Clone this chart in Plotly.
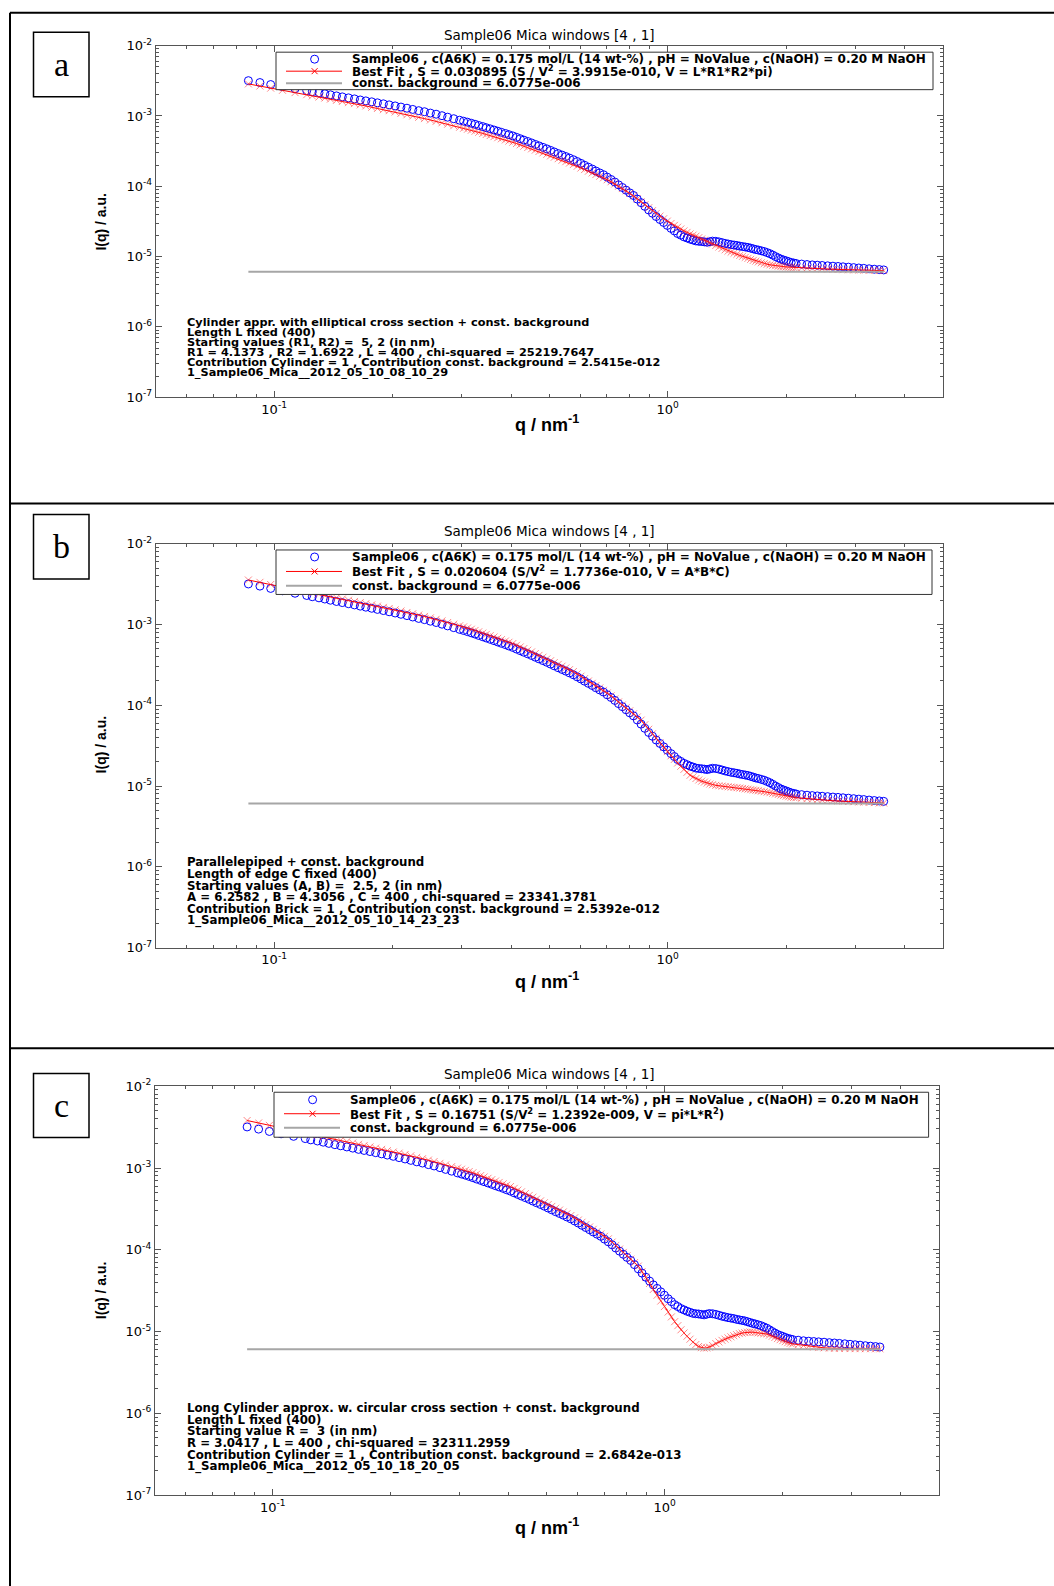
import math
import plotly.graph_objects as go

W, H = 1054, 1586

# ---------------- data ----------------
q = [0.086, 0.092, 0.098, 0.105, 0.113, 0.121, 0.125, 0.130, 0.1345, 0.139,
     0.144, 0.149, 0.1545, 0.160, 0.1655, 0.171, 0.177, 0.183, 0.1895, 0.196,
     0.203, 0.210, 0.2175, 0.225, 0.233, 0.241, 0.2495, 0.258, 0.267, 0.276,
     0.286, 0.296, 0.303,
     0.310, 0.317, 0.324, 0.331, 0.339, 0.346, 0.354, 0.362, 0.370, 0.378,
     0.387, 0.395, 0.404, 0.413, 0.422, 0.431, 0.441, 0.451, 0.461, 0.471,
     0.482, 0.493, 0.504, 0.515, 0.527, 0.539, 0.551, 0.563, 0.576, 0.589,
     0.602, 0.615, 0.629, 0.643, 0.657, 0.672, 0.687, 0.702, 0.718, 0.734,
     0.750, 0.767, 0.784, 0.801, 0.819, 0.837, 0.856, 0.875, 0.895, 0.915,
     0.935, 0.956, 0.977, 0.998, 1.02, 1.04, 1.06, 1.08, 1.10, 1.12,
     1.14, 1.16, 1.18, 1.20, 1.22, 1.24, 1.26, 1.28, 1.30, 1.325,
     1.35, 1.375, 1.40, 1.425, 1.45, 1.475, 1.50, 1.525, 1.55, 1.575,
     1.60, 1.625, 1.65, 1.675, 1.70, 1.73, 1.76, 1.79, 1.82, 1.85,
     1.88, 1.91, 1.94, 1.97, 2.00, 2.03, 2.06, 2.09, 2.12,
     2.19, 2.26, 2.33, 2.40, 2.47, 2.55, 2.63, 2.71, 2.79, 2.88,
     2.97, 3.06, 3.15, 3.25, 3.35, 3.45, 3.54]

I_data = [3.18e-3, 2.99e-3, 2.80e-3, 2.62e-3, 2.44e-3, 2.29e-3, 2.21e-3, 2.14e-3, 2.07e-3, 2.00e-3,
          1.93e-3, 1.87e-3, 1.81e-3, 1.75e-3, 1.69e-3, 1.64e-3, 1.59e-3, 1.54e-3, 1.49e-3, 1.44e-3,
          1.39e-3, 1.34e-3, 1.29e-3, 1.24e-3, 1.19e-3, 1.15e-3, 1.10e-3, 1.06e-3, 1.01e-3, 9.62e-4,
          9.15e-4, 8.71e-4, 8.44e-4,
          8.17e-4, 7.89e-4, 7.62e-4, 7.33e-4, 7.06e-4, 6.81e-4, 6.56e-4, 6.32e-4, 6.08e-4, 5.86e-4,
          5.64e-4, 5.42e-4, 5.21e-4, 4.97e-4, 4.75e-4, 4.54e-4, 4.34e-4, 4.14e-4, 3.94e-4, 3.76e-4,
          3.58e-4, 3.41e-4, 3.24e-4, 3.08e-4, 2.92e-4, 2.78e-4, 2.65e-4, 2.52e-4, 2.39e-4, 2.25e-4,
          2.12e-4, 1.99e-4, 1.87e-4, 1.76e-4, 1.65e-4, 1.55e-4, 1.46e-4, 1.35e-4, 1.25e-4, 1.15e-4,
          1.05e-4, 9.62e-5, 8.81e-5, 8.07e-5, 7.40e-5, 6.58e-5, 5.85e-5, 5.19e-5, 4.61e-5, 4.14e-5,
          3.72e-5, 3.37e-5, 3.06e-5, 2.78e-5, 2.52e-5, 2.32e-5, 2.13e-5, 2.02e-5, 1.91e-5, 1.84e-5,
          1.77e-5, 1.72e-5, 1.67e-5, 1.65e-5, 1.64e-5, 1.62e-5, 1.60e-5, 1.63e-5, 1.66e-5, 1.65e-5,
          1.62e-5, 1.58e-5, 1.54e-5, 1.51e-5, 1.48e-5, 1.46e-5, 1.44e-5, 1.41e-5, 1.39e-5, 1.37e-5,
          1.35e-5, 1.32e-5, 1.29e-5, 1.26e-5, 1.24e-5, 1.21e-5, 1.18e-5, 1.14e-5, 1.10e-5, 1.05e-5,
          1.00e-5, 9.59e-6, 9.20e-6, 8.95e-6, 8.71e-6, 8.47e-6, 8.24e-6, 8.11e-6, 7.98e-6,
          7.83e-6, 7.71e-6, 7.62e-6, 7.55e-6, 7.48e-6, 7.40e-6, 7.31e-6, 7.24e-6, 7.16e-6, 7.08e-6,
          6.98e-6, 6.89e-6, 6.81e-6, 6.71e-6, 6.62e-6, 6.55e-6, 6.47e-6]

I_fit_a = [2.86e-3, 2.67e-3, 2.49e-3, 2.32e-3, 2.15e-3, 2.01e-3, 1.93e-3, 1.86e-3, 1.80e-3, 1.74e-3,
           1.67e-3, 1.61e-3, 1.55e-3, 1.50e-3, 1.44e-3, 1.39e-3, 1.33e-3, 1.28e-3, 1.23e-3, 1.19e-3,
           1.14e-3, 1.09e-3, 1.04e-3, 1.00e-3, 9.58e-4, 9.18e-4, 8.78e-4, 8.39e-4, 8.01e-4, 7.64e-4,
           7.27e-4, 6.92e-4, 6.70e-4,
           6.49e-4, 6.28e-4, 6.07e-4, 5.86e-4, 5.65e-4, 5.46e-4, 5.27e-4, 5.09e-4, 4.91e-4, 4.74e-4,
           4.57e-4, 4.40e-4, 4.24e-4, 4.06e-4, 3.89e-4, 3.72e-4, 3.56e-4, 3.41e-4, 3.27e-4, 3.13e-4,
           2.99e-4, 2.85e-4, 2.71e-4, 2.59e-4, 2.47e-4, 2.35e-4, 2.24e-4, 2.14e-4, 2.04e-4, 1.93e-4,
           1.82e-4, 1.73e-4, 1.64e-4, 1.55e-4, 1.47e-4, 1.39e-4, 1.32e-4, 1.24e-4, 1.16e-4, 1.08e-4,
           1.00e-4, 9.29e-5, 8.63e-5, 7.93e-5, 7.28e-5, 6.63e-5, 6.03e-5, 5.46e-5, 4.95e-5, 4.50e-5,
           4.10e-5, 3.77e-5, 3.46e-5, 3.20e-5, 2.96e-5, 2.78e-5, 2.62e-5, 2.47e-5, 2.32e-5, 2.21e-5,
           2.10e-5, 2.02e-5, 1.95e-5, 1.86e-5, 1.78e-5, 1.71e-5, 1.64e-5, 1.57e-5, 1.51e-5, 1.44e-5,
           1.37e-5, 1.31e-5, 1.25e-5, 1.20e-5, 1.16e-5, 1.12e-5, 1.08e-5, 1.04e-5, 1.01e-5, 9.76e-6,
           9.44e-6, 9.13e-6, 8.83e-6, 8.62e-6, 8.41e-6, 8.18e-6, 7.96e-6, 7.80e-6, 7.64e-6, 7.52e-6,
           7.41e-6, 7.32e-6, 7.23e-6, 7.18e-6, 7.14e-6, 7.10e-6, 7.06e-6, 7.03e-6, 7.00e-6,
           6.92e-6, 6.84e-6, 6.79e-6, 6.75e-6, 6.70e-6, 6.65e-6, 6.61e-6, 6.56e-6, 6.52e-6, 6.49e-6,
           6.46e-6, 6.43e-6, 6.41e-6, 6.38e-6, 6.37e-6, 6.34e-6, 6.32e-6]

I_fit_b = [3.56e-3, 3.33e-3, 3.13e-3, 2.93e-3, 2.72e-3, 2.54e-3, 2.45e-3, 2.37e-3, 2.29e-3, 2.21e-3,
           2.14e-3, 2.07e-3, 2.00e-3, 1.93e-3, 1.87e-3, 1.81e-3, 1.75e-3, 1.69e-3, 1.63e-3, 1.58e-3,
           1.52e-3, 1.47e-3, 1.41e-3, 1.36e-3, 1.31e-3, 1.26e-3, 1.21e-3, 1.16e-3, 1.11e-3, 1.06e-3,
           1.01e-3, 9.64e-4, 9.35e-4,
           9.06e-4, 8.75e-4, 8.45e-4, 8.13e-4, 7.83e-4, 7.55e-4, 7.28e-4, 7.01e-4, 6.75e-4, 6.50e-4,
           6.25e-4, 6.03e-4, 5.81e-4, 5.54e-4, 5.28e-4, 5.04e-4, 4.81e-4, 4.58e-4, 4.37e-4, 4.15e-4,
           3.94e-4, 3.75e-4, 3.56e-4, 3.38e-4, 3.21e-4, 3.05e-4, 2.90e-4, 2.76e-4, 2.62e-4, 2.45e-4,
           2.29e-4, 2.14e-4, 2.00e-4, 1.87e-4, 1.75e-4, 1.64e-4, 1.53e-4, 1.42e-4, 1.31e-4, 1.20e-4,
           1.10e-4, 1.01e-4, 9.31e-5, 8.55e-5, 7.85e-5, 7.17e-5, 6.55e-5, 5.75e-5, 5.05e-5, 4.44e-5,
           3.90e-5, 3.43e-5, 3.01e-5, 2.67e-5, 2.37e-5, 2.14e-5, 1.93e-5, 1.76e-5, 1.61e-5, 1.48e-5,
           1.36e-5, 1.30e-5, 1.24e-5, 1.19e-5, 1.15e-5, 1.12e-5, 1.09e-5, 1.06e-5, 1.04e-5, 1.02e-5,
           1.01e-5, 9.99e-6, 9.89e-6, 9.80e-6, 9.71e-6, 9.63e-6, 9.55e-6, 9.45e-6, 9.35e-6, 9.24e-6,
           9.14e-6, 9.03e-6, 8.93e-6, 8.84e-6, 8.75e-6, 8.64e-6, 8.53e-6, 8.40e-6, 8.28e-6, 8.14e-6,
           8.00e-6, 7.87e-6, 7.74e-6, 7.62e-6, 7.50e-6, 7.39e-6, 7.28e-6, 7.23e-6, 7.19e-6,
           7.08e-6, 6.97e-6, 6.87e-6, 6.78e-6, 6.68e-6, 6.62e-6, 6.58e-6, 6.53e-6, 6.49e-6, 6.44e-6,
           6.40e-6, 6.35e-6, 6.32e-6, 6.28e-6, 6.24e-6, 6.19e-6, 6.17e-6]

I_fit_c = [3.81e-3, 3.56e-3, 3.32e-3, 3.10e-3, 2.88e-3, 2.69e-3, 2.59e-3, 2.50e-3, 2.41e-3, 2.33e-3,
           2.25e-3, 2.18e-3, 2.10e-3, 2.02e-3, 1.95e-3, 1.88e-3, 1.81e-3, 1.75e-3, 1.69e-3, 1.63e-3,
           1.57e-3, 1.52e-3, 1.46e-3, 1.41e-3, 1.35e-3, 1.30e-3, 1.25e-3, 1.20e-3, 1.14e-3, 1.09e-3,
           1.04e-3, 9.98e-4, 9.66e-4,
           9.35e-4, 9.05e-4, 8.75e-4, 8.40e-4, 8.07e-4, 7.77e-4, 7.48e-4, 7.20e-4, 6.93e-4, 6.66e-4,
           6.40e-4, 6.16e-4, 5.93e-4, 5.64e-4, 5.37e-4, 5.11e-4, 4.86e-4, 4.62e-4, 4.40e-4, 4.17e-4,
           3.96e-4, 3.76e-4, 3.57e-4, 3.39e-4, 3.22e-4, 3.06e-4, 2.90e-4, 2.76e-4, 2.62e-4, 2.46e-4,
           2.31e-4, 2.17e-4, 2.03e-4, 1.90e-4, 1.78e-4, 1.67e-4, 1.56e-4, 1.46e-4, 1.36e-4, 1.24e-4,
           1.13e-4, 1.02e-4, 9.29e-5, 8.44e-5, 7.67e-5, 6.96e-5, 6.32e-5, 5.40e-5, 4.61e-5, 3.88e-5,
           3.27e-5, 2.78e-5, 2.36e-5, 2.02e-5, 1.73e-5, 1.51e-5, 1.32e-5, 1.18e-5, 1.05e-5, 9.60e-6,
           8.77e-6, 8.06e-6, 7.41e-6, 6.93e-6, 6.56e-6, 6.35e-6, 6.27e-6, 6.30e-6, 6.44e-6, 6.75e-6,
           7.13e-6, 7.46e-6, 7.80e-6, 8.07e-6, 8.36e-6, 8.62e-6, 8.89e-6, 9.16e-6, 9.44e-6, 9.58e-6,
           9.71e-6, 9.82e-6, 9.89e-6, 9.83e-6, 9.73e-6, 9.63e-6, 9.53e-6, 9.43e-6, 9.33e-6, 9.04e-6,
           8.75e-6, 8.47e-6, 8.20e-6, 7.96e-6, 7.73e-6, 7.52e-6, 7.31e-6, 7.18e-6, 7.06e-6,
           6.90e-6, 6.75e-6, 6.61e-6, 6.46e-6, 6.37e-6, 6.32e-6, 6.27e-6, 6.22e-6, 6.22e-6, 6.21e-6,
           6.19e-6, 6.18e-6, 6.18e-6, 6.17e-6, 6.17e-6, 6.15e-6, 6.15e-6]

const_background = 6.0775e-6

for _s in (I_data, I_fit_a, I_fit_b, I_fit_c):
    assert len(_s) == len(q), (len(_s), len(q))

plot_title = "Sample06 Mica windows [4 , 1]"
legend_data = "Sample06 , c(A6K) = 0.175 mol/L (14 wt-%) , pH = NoValue , c(NaOH) = 0.20 M NaOH"
legend_fit_a = "Best Fit , S = 0.030895 (S / V<sup>2</sup> = 3.9915e-010, V = L*R1*R2*pi)"
legend_fit_b = "Best Fit , S = 0.020604 (S/V<sup>2</sup> = 1.7736e-010, V = A*B*C)"
legend_fit_c = "Best Fit , S = 0.16751 (S/V<sup>2</sup> = 1.2392e-009, V = pi*L*R<sup>2</sup>)"
legend_bg = "const. background = 6.0775e-006"

info_a = ["Cylinder appr. with elliptical cross section + const. background",
          "Length L fixed (400)",
          "Starting values (R1, R2) =  5, 2 (in nm)",
          "R1 = 4.1373 , R2 = 1.6922 , L = 400 , chi-squared = 25219.7647",
          "Contribution Cylinder = 1 , Contribution const. background = 2.5415e-012",
          "1_Sample06_Mica__2012_05_10_08_10_29"]
info_b = ["Parallelepiped + const. background",
          "Length of edge C fixed (400)",
          "Starting values (A, B) =  2.5, 2 (in nm)",
          "A = 6.2582 , B = 4.3056 , C = 400 , chi-squared = 23341.3781",
          "Contribution Brick = 1 , Contribution const. background = 2.5392e-012",
          "1_Sample06_Mica__2012_05_10_14_23_23"]
info_c = ["Long Cylinder approx. w. circular cross section + const. background",
          "Length L fixed (400)",
          "Starting value R =  3 (in nm)",
          "R = 3.0417 , L = 400 , chi-squared = 32311.2959",
          "Contribution Cylinder = 1 , Contribution const. background = 2.6842e-013",
          "1_Sample06_Mica__2012_05_10_18_20_05"]

x_tick_vals = [0.1, 1]
x_tick_text = ["10<sup>-1</sup>", "10<sup>0</sup>"]
y_tick_vals = [1e-7, 1e-6, 1e-5, 1e-4, 1e-3, 1e-2]
y_tick_text = ["10<sup>-7</sup>", "10<sup>-6</sup>", "10<sup>-5</sup>",
               "10<sup>-4</sup>", "10<sup>-3</sup>", "10<sup>-2</sup>"]
x_limits = [0.05, 5]
y_limits = [1e-7, 1e-2]
y_label = "I(q) / a.u."
x_label = "q / nm<sup>-1</sup>"

# ---------------- layout geometry (target pixels) ----------------
panels = [
    dict(letter="a", fit=I_fit_a, fit_label=legend_fit_a, info=info_a,
         x0=155.7, x1=942.7, y0=45.0, y1=396.7,
         title_y=34.0, xlab_y=423.0, ylab_y=221.0,
         box=(33.5, 31.5, 89.0, 96.0),
         leg=(276.0, 933.0, 51.5, 89.0), rows=(58.5, 70.5, 82.5), leg_size=12,
         info_y0=321.7, info_dy=10.1, info_size=11.3),
    dict(letter="b", fit=I_fit_b, fit_label=legend_fit_b, info=info_b,
         x0=155.7, x1=942.7, y0=543.3, y1=947.3,
         title_y=531.0, xlab_y=980.0, ylab_y=744.0,
         box=(33.5, 514.0, 89.0, 578.6),
         leg=(276.0, 932.0, 549.5, 594.0), rows=(556.5, 571.0, 585.3), leg_size=12,
         info_y0=862.0, info_dy=11.7, info_size=11.8),
    dict(letter="c", fit=I_fit_c, fit_label=legend_fit_c, info=info_c,
         x0=154.8, x1=938.7, y0=1086.0, y1=1495.0,
         title_y=1074.0, xlab_y=1526.0, ylab_y=1290.0,
         box=(33.5, 1073.2, 89.0, 1137.2),
         leg=(274.0, 928.6, 1092.0, 1137.0), rows=(1099.5, 1113.5, 1127.5), leg_size=11.9,
         info_y0=1408.0, info_dy=11.7, info_size=11.8),
]

FONT = "DejaVu Sans, Liberation Sans, Arial, sans-serif"
AX = "#555555"
BLUE = "#0000FF"
RED = "#FF0000"
GRAY = "#A6A6A6"

# the photographed page comes out slightly squeezed vertically; compensate
Y_OFF, Y_SCALE = 8.3, 0.9897


def PX(x):
    return x / W


def PY(y):
    return 1 - ((y - Y_OFF) / Y_SCALE) / H


fig = go.Figure()
shapes = []
annotations = []
layout_axes = {}

x_minor = [m * 10 ** e for e in (-2, -1, 0) for m in range(2, 10)
           if x_limits[0] <= m * 10 ** e <= x_limits[1]]
y_minor = [m * 10 ** e for e in range(-7, -2) for m in range(2, 10)]

for i, p in enumerate(panels):
    n = "" if i == 0 else str(i + 1)
    xa, ya = "x" + n, "y" + n

    fig.add_trace(go.Scatter(
        x=q, y=I_data, xaxis=xa, yaxis=ya, mode="markers",
        marker=dict(symbol="circle-open", size=8, color=BLUE, line=dict(width=1, color=BLUE)),
        showlegend=False))
    fig.add_trace(go.Scatter(
        x=q, y=p["fit"], xaxis=xa, yaxis=ya, mode="lines+markers",
        line=dict(color=RED, width=1),
        marker=dict(symbol="x-thin-open", size=7, color="rgba(255,40,40,0.55)",
                    line=dict(width=1, color="rgba(255,40,40,0.55)")),
        showlegend=False))
    fig.add_trace(go.Scatter(
        x=[q[0], q[-1]], y=[const_background, const_background], xaxis=xa, yaxis=ya,
        mode="lines", line=dict(color=GRAY, width=2), showlegend=False))

    common = dict(type="log", showline=True, linecolor=AX, linewidth=1, mirror="allticks",
                  ticks="inside", ticklen=6, tickcolor=AX, tickwidth=1,
                  showgrid=False, zeroline=False,
                  tickfont=dict(family=FONT, size=13, color="black"))
    layout_axes["xaxis" + n] = dict(
        common, domain=[PX(p["x0"]), PX(p["x1"])], anchor=ya,
        range=[math.log10(x_limits[0]), math.log10(x_limits[1])],
        tickmode="array", tickvals=x_tick_vals, ticktext=x_tick_text,
        minor=dict(tickmode="array", tickvals=x_minor, ticks="inside", ticklen=3,
                   tickcolor=AX, showgrid=False))
    layout_axes["yaxis" + n] = dict(
        common, domain=[PY(p["y1"]), PY(p["y0"])], anchor=xa,
        range=[math.log10(y_limits[0]), math.log10(y_limits[1])],
        tickmode="array", tickvals=y_tick_vals, ticktext=y_tick_text,
        minor=dict(tickmode="array", tickvals=y_minor, ticks="inside", ticklen=3,
                   tickcolor=AX, showgrid=False))

    # title
    annotations.append(dict(x=PX(549), y=PY(p["title_y"]), xref="paper", yref="paper",
                            text=plot_title, showarrow=False, xanchor="center", yanchor="middle",
                            font=dict(family=FONT, size=13.5, color="black")))
    # axis titles
    annotations.append(dict(x=PX(547), y=PY(p["xlab_y"]), xref="paper", yref="paper",
                            text="<b>" + x_label + "</b>", showarrow=False,
                            xanchor="center", yanchor="middle",
                            font=dict(family="Liberation Sans, Arial, sans-serif", size=18, color="black")))
    annotations.append(dict(x=PX(101), y=PY(p["ylab_y"]), xref="paper", yref="paper",
                            text="<b>" + y_label + "</b>", showarrow=False, textangle=-90,
                            xanchor="center", yanchor="middle",
                            font=dict(family="Liberation Sans Narrow, Arial Narrow, Liberation Sans, Arial",
                                      size=14, color="black")))
    # info text block
    for k, line in enumerate(p["info"]):
        annotations.append(dict(x=PX(185), y=PY(p["info_y0"] + k * p["info_dy"]),
                                xref="paper", yref="paper", text="<b>" + line + "</b>", showarrow=False,
                                xanchor="left", yanchor="middle",
                                font=dict(family=FONT, size=p["info_size"], color="black")))

    # legend box (manual)
    lx0, lx1, ly0, ly1 = p["leg"]
    shapes.append(dict(type="rect", xref="paper", yref="paper",
                       x0=PX(lx0), x1=PX(lx1), y0=PY(ly1), y1=PY(ly0),
                       line=dict(color="#333333", width=1), fillcolor="white", layer="above"))
    r1, r2, r3 = p["rows"]
    icx = lx0 + 38.6
    shapes.append(dict(type="circle", xref="paper", yref="paper",
                       x0=PX(icx - 4), x1=PX(icx + 4), y0=PY(r1 + 4), y1=PY(r1 - 4),
                       line=dict(color=BLUE, width=1), layer="above"))
    shapes.append(dict(type="line", xref="paper", yref="paper",
                       x0=PX(lx0 + 10), x1=PX(lx0 + 66), y0=PY(r2), y1=PY(r2),
                       line=dict(color=RED, width=1), layer="above"))
    for dx in (-3, 3):
        shapes.append(dict(type="line", xref="paper", yref="paper",
                           x0=PX(icx - 3), x1=PX(icx + 3), y0=PY(r2 + dx), y1=PY(r2 - dx),
                           line=dict(color=RED, width=1), layer="above"))
    shapes.append(dict(type="line", xref="paper", yref="paper",
                       x0=PX(lx0 + 10), x1=PX(lx0 + 66), y0=PY(r3), y1=PY(r3),
                       line=dict(color=GRAY, width=2), layer="above"))
    for row, txt in zip(p["rows"], [legend_data, p["fit_label"], legend_bg]):
        annotations.append(dict(x=PX(lx0 + 74), y=PY(row), xref="paper", yref="paper",
                                text="<b>" + txt + "</b>", showarrow=False, xanchor="left", yanchor="middle",
                                font=dict(family=FONT, size=p["leg_size"], color="black")))

    # panel letter box
    bx0, by0, bx1, by1 = p["box"]
    shapes.append(dict(type="rect", xref="paper", yref="paper",
                       x0=PX(bx0), x1=PX(bx1), y0=PY(by1), y1=PY(by0),
                       line=dict(color="black", width=1.5)))
    annotations.append(dict(x=PX((bx0 + bx1) / 2), y=PY((by0 + by1) / 2), xref="paper", yref="paper",
                            text=p["letter"], showarrow=False, xanchor="center", yanchor="middle",
                            font=dict(family="Liberation Serif, Times New Roman, serif", size=34,
                                      color="black")))

# table borders
for (x0, y0, x1, y1) in [(10, 12, 10, H + 20), (10, 12, W, 12), (10, 503, W, 503), (10, 1048, W, 1048)]:
    shapes.append(dict(type="line", xref="paper", yref="paper",
                       x0=PX(x0), x1=PX(x1), y0=PY(y0), y1=PY(y1),
                       line=dict(color="black", width=2)))

fig.update_layout(
    width=W, height=H, margin=dict(l=0, r=0, t=0, b=0),
    paper_bgcolor="white", plot_bgcolor="white", showlegend=False,
    shapes=shapes, annotations=annotations, **layout_axes)

page_css = ("var s=document.createElement('style');"
            "s.innerHTML='html,body{margin:0;padding:0;overflow:hidden;}"
            " .plotly-graph-div{position:absolute;top:0;left:0;}';"
            "document.head.appendChild(s);")

fig.write_html("out.html", config={"displayModeBar": False}, post_script=page_css)
